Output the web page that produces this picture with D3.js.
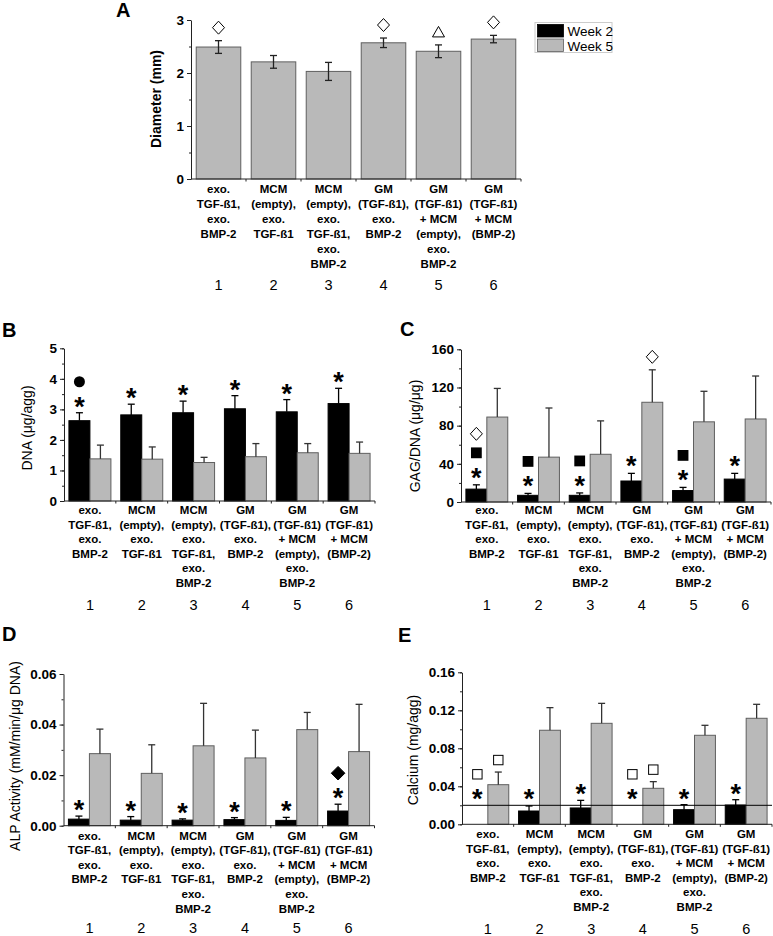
<!DOCTYPE html>
<html><head><meta charset="utf-8">
<script src="https://cdn.jsdelivr.net/npm/d3@7"></script>
<style>
body{margin:0;background:#fff}
svg{display:block}
text{font-family:"Liberation Sans",Arial,sans-serif;fill:#000}
</style>
</head><body>
<svg id="chart" width="773" height="936"></svg>
<script>
// ---------- DATA ----------
const groupNumbers = ["1", "2", "3", "4", "5", "6"];
const categoryLines = [
  ["exo.", "TGF-ß1,", "exo.", "BMP-2"],
  ["MCM", "(empty),", "exo.", "TGF-ß1"],
  ["MCM", "(empty),", "exo.", "TGF-ß1,", "exo.", "BMP-2"],
  ["GM", "(TGF-ß1),", "exo.", "BMP-2"],
  ["GM", "(TGF-ß1)", "+ MCM", "(empty),", "exo.", "BMP-2"],
  ["GM", "(TGF-ß1)", "+ MCM", "(BMP-2)"]
];
const seriesNames = ["Week 2", "Week 5"];

const diameterMean = [2.49, 2.21, 2.03, 2.57, 2.41, 2.64];
const diameterErr  = [0.12, 0.12, 0.17, 0.09, 0.12, 0.07];

const dnaWeek2    = [2.63, 2.82, 2.89, 3.02, 2.92, 3.19];
const dnaWeek2Err = [0.26, 0.35, 0.38, 0.43, 0.40, 0.50];
const dnaWeek5    = [1.38, 1.37, 1.26, 1.45, 1.58, 1.56];
const dnaWeek5Err = [0.45, 0.40, 0.17, 0.43, 0.30, 0.37];

const gagWeek2    = [13.5, 7, 7, 22, 12, 24];
const gagWeek2Err = [4.5, 2, 2.5, 8, 3.3, 6];
const gagWeek5    = [89, 47, 50, 104.5, 84, 87];
const gagWeek5Err = [30, 51.5, 35, 34, 32, 45];

const alpWeek2    = [0.0026, 0.0022, 0.0022, 0.0024, 0.0021, 0.0058];
const alpWeek2Err = [0.0012, 0.0014, 0.0005, 0.0008, 0.0012, 0.0027];
const alpWeek5    = [0.0285, 0.0207, 0.0316, 0.0268, 0.0380, 0.0293];
const alpWeek5Err = [0.0097, 0.0113, 0.0168, 0.0110, 0.0068, 0.0187];

const calciumWeek2    = [0, 0.0140, 0.0172, 0, 0.0154, 0.0203];
const calciumWeek2Err = [0, 0.0053, 0.0080, 0, 0.0053, 0.0056];
const calciumWeek5    = [0.0417, 0.0990, 0.1063, 0.0379, 0.0937, 0.1116];
const calciumWeek5Err = [0.0133, 0.0238, 0.0210, 0.0070, 0.0105, 0.0147];
const calciumThreshold = 0.02;

// significance markers: [groupIndex, seriesIndex, symbols from bottom up]
const diameterMarkers = [[0, 0, ["diamondOpen"]], [3, 0, ["diamondOpen"]], [4, 0, ["triangleOpen"]], [5, 0, ["diamondOpen"]]];
const dnaMarkers = [[0, 0, ["asterisk", "circle"]], [1, 0, ["asterisk"]], [2, 0, ["asterisk"]], [3, 0, ["asterisk"]], [4, 0, ["asterisk"]], [5, 0, ["asterisk"]]];
const gagMarkers = [[0, 0, ["asterisk", "squareFilled", "diamondOpen"]], [1, 0, ["asterisk", "squareFilled"]], [2, 0, ["asterisk", "squareFilled"]], [3, 0, ["asterisk"]], [4, 0, ["asterisk", "squareFilled"]], [5, 0, ["asterisk"]], [3, 1, ["diamondOpen"]]];
const alpMarkers = [[0, 0, ["asterisk"]], [1, 0, ["asterisk"]], [2, 0, ["asterisk"]], [3, 0, ["asterisk"]], [4, 0, ["asterisk"]], [5, 0, ["asterisk", "diamondFilled"]]];
const calciumMarkers = [[0, 0, ["asterisk", "squareOpen"]], [1, 0, ["asterisk"]], [2, 0, ["asterisk"]], [3, 0, ["asterisk", "squareOpen"]], [4, 0, ["asterisk"]], [5, 0, ["asterisk"]], [0, 1, ["squareOpen"]], [3, 1, ["squareOpen"]]];

const diameterTicks = [0, 1, 2, 3];
const dnaTicks = [0, 1, 2, 3, 4, 5];
const gagTicks = [0, 40, 80, 120, 160];
const alpTicks = [0, 0.02, 0.04, 0.06];
const calciumTicks = [0, 0.04, 0.08, 0.12, 0.16];

// ---------- STYLE ----------
const BLACK = "#000", GRAY = "#b9b9b9", GRAY_STROKE = "#5f5f5f", AXIS = "#222";
const svg = d3.select("#chart");

function drawSymbol(g, type, cx, cy) {
  if (type === "asterisk") {
    g.append("text").attr("x", cx).attr("y", cy + 15).attr("text-anchor", "middle")
      .attr("font-size", 27).attr("font-weight", "bold").text("*");
  } else if (type === "diamondOpen" || type === "diamondFilled") {
    const w = type === "diamondOpen" ? 6 : 6.8, h = type === "diamondOpen" ? 6.5 : 6.8;
    g.append("path").attr("d", `M${cx},${cy - h}L${cx + w},${cy}L${cx},${cy + h}L${cx - w},${cy}Z`)
      .attr("fill", type === "diamondOpen" ? "#fff" : "#000").attr("stroke", "#000").attr("stroke-width", 1);
  } else if (type === "squareFilled") {
    g.append("rect").attr("x", cx - 5.4).attr("y", cy - 5.4).attr("width", 10.8).attr("height", 10.8).attr("fill", "#000");
  } else if (type === "squareOpen") {
    g.append("rect").attr("x", cx - 4.7).attr("y", cy - 4.7).attr("width", 9.4).attr("height", 9.4)
      .attr("fill", "#fff").attr("stroke", "#000").attr("stroke-width", 1);
  } else if (type === "circle") {
    g.append("circle").attr("cx", cx).attr("cy", cy).attr("r", 5.5).attr("fill", "#000");
  } else if (type === "triangleOpen") {
    g.append("path").attr("d", `M${cx},${cy - 5.5}L${cx + 6},${cy + 5}L${cx - 6},${cy + 5}Z`)
      .attr("fill", "#fff").attr("stroke", "#000").attr("stroke-width", 1);
  }
}

function drawPanel(p) {
  const g = svg.append("g");
  const x = d3.scaleBand().domain(groupNumbers).range(p.xRange).paddingInner(0.19).paddingOuter(0.095);
  const y = d3.scaleLinear().domain([0, p.yMax]).range(p.yRange);
  const xs = d3.scaleBand().domain(d3.range(p.series.length)).range([0, x.bandwidth()]);

  // bars
  p.series.forEach((s, si) => {
    s.values.forEach((v, i) => {
      if (v <= 0) return;
      g.append("rect")
        .attr("x", x(groupNumbers[i]) + xs(si)).attr("y", y(v))
        .attr("width", xs.bandwidth()).attr("height", y(0) - y(v))
        .attr("fill", s.color).attr("stroke", s.stroke).attr("stroke-width", 1);
    });
  });
  // error bars
  p.series.forEach((s, si) => {
    s.values.forEach((v, i) => {
      const e = s.errors[i];
      if (!(e > 0)) return;
      const cx = x(groupNumbers[i]) + xs(si) + xs.bandwidth() / 2;
      const top = y(v + e), bot = p.twoSided ? y(v - e) : y(v);
      const col = s.errColor;
      g.append("line").attr("x1", cx).attr("x2", cx).attr("y1", top).attr("y2", bot).attr("stroke", col).attr("stroke-width", 1.3);
      g.append("line").attr("x1", cx - 3.5).attr("x2", cx + 3.5).attr("y1", top).attr("y2", top).attr("stroke", col).attr("stroke-width", 1.3);
      if (p.twoSided)
        g.append("line").attr("x1", cx - 3.5).attr("x2", cx + 3.5).attr("y1", bot).attr("y2", bot).attr("stroke", col).attr("stroke-width", 1.3);
    });
  });
  // threshold line
  if (p.threshold !== undefined) {
    g.append("line").attr("x1", p.xRange[0]).attr("x2", p.xRange[1])
      .attr("y1", y(p.threshold)).attr("y2", y(p.threshold)).attr("stroke", "#000").attr("stroke-width", 1);
  }
  // markers
  p.markers.forEach(([gi, si, syms]) => {
    const s = p.series[si];
    const cx = x(groupNumbers[gi]) + xs(si) + xs.bandwidth() / 2;
    let base = s.values[gi] + (s.errors[gi] || 0);
    if (p.markerFloor !== undefined) base = Math.max(base, p.markerFloor);
    let cy = y(base) - p.firstGap;
    syms.forEach(sym => { drawSymbol(g, sym, cx, cy); cy -= 19; });
  });

  // y axis
  const ax = g.append("g").attr("transform", `translate(${p.xRange[0]},0)`);
  const minorTicks = d3.range(0, p.yMax + p.minorStep / 2, p.minorStep);
  ax.call(d3.axisLeft(y).tickValues(minorTicks).tickSize(2).tickFormat(""))
    .call(a => a.select(".domain").remove());
  const major = g.append("g").attr("transform", `translate(${p.xRange[0]},0)`)
    .call(d3.axisLeft(y).tickValues(p.ticks).tickSize(4).tickSizeOuter(0).tickPadding(3).tickFormat(p.fmt));
  g.selectAll(".tick line, .domain").attr("stroke", AXIS);
  major.selectAll(".tick text").attr("font-size", 13.5).attr("font-weight", "bold")
    .attr("font-family", '"Liberation Sans",Arial,sans-serif').attr("fill", "#000");

  // x axis line with boundary ticks
  g.append("line").attr("x1", p.xRange[0]).attr("x2", p.xRange[1]).attr("y1", y(0)).attr("y2", y(0)).attr("stroke", AXIS);
  groupNumbers.slice(1).forEach(k => {
    const bx = x(k) - x.step() * x.paddingInner() / 2;
    g.append("line").attr("x1", bx).attr("x2", bx).attr("y1", y(0)).attr("y2", y(0) + 2.5).attr("stroke", AXIS);
  });
  g.append("line").attr("x1", p.xRange[1]).attr("x2", p.xRange[1]).attr("y1", y(0)).attr("y2", y(0) + 2.5).attr("stroke", AXIS);

  // category labels
  categoryLines.forEach((lines, i) => {
    const cx = x(groupNumbers[i]) + x.bandwidth() / 2;
    const t = g.append("text").attr("text-anchor", "middle").attr("font-size", p.catSize).attr("font-weight", "bold");
    lines.forEach((ln, li) => {
      t.append("tspan").attr("x", cx).attr("y", p.catY + li * p.catStep + 4).text(ln);
    });
    g.append("text").attr("x", cx).attr("y", p.numY + 5).attr("text-anchor", "middle").attr("font-size", 14.5).text(groupNumbers[i]);
  });

  // y title
  g.append("text").attr("transform", `translate(${p.titleX},${p.titleY}) rotate(-90)`)
    .attr("text-anchor", "middle").attr("dominant-baseline", "central")
    .attr("font-size", 14).attr("font-weight", p.titleBold ? "bold" : "normal").text(p.title);

  // panel letter
  g.append("text").attr("x", p.letterPos[0]).attr("y", p.letterPos[1]).attr("font-size", 20).attr("font-weight", "bold").text(p.letter);
}

const fmt0 = d3.format("d"), fmt2 = d3.format(".2f");

drawPanel({
  letter: "A", letterPos: [116, 17],
  xRange: [191, 521], yRange: [179, 20], yMax: 3, ticks: diameterTicks, minorStep: 0.5, fmt: fmt0,
  series: [{ values: diameterMean, errors: diameterErr, color: GRAY, stroke: GRAY_STROKE, errColor: "#222" }],
  twoSided: true, markers: diameterMarkers, firstGap: 13,
  catY: 189, catStep: 15, catSize: 11.5, numY: 285,
  title: "Diameter (mm)", titleBold: true, titleX: 156, titleY: 99
});

drawPanel({
  letter: "B", letterPos: [2, 337],
  xRange: [64, 375], yRange: [501, 348.3], yMax: 5, ticks: dnaTicks, minorStep: 0.5, fmt: fmt0,
  series: [
    { values: dnaWeek2, errors: dnaWeek2Err, color: BLACK, stroke: BLACK, errColor: "#000" },
    { values: dnaWeek5, errors: dnaWeek5Err, color: GRAY, stroke: GRAY_STROKE, errColor: "#333" }
  ],
  markers: dnaMarkers, firstGap: 12,
  catY: 510, catStep: 14.5, catSize: 11.5, numY: 605,
  title: "DNA (μg/agg)", titleX: 27, titleY: 428
});

drawPanel({
  letter: "C", letterPos: [400, 336],
  xRange: [461, 771], yRange: [502, 349.3], yMax: 160, ticks: gagTicks, minorStep: 20, fmt: fmt0,
  series: [
    { values: gagWeek2, errors: gagWeek2Err, color: BLACK, stroke: BLACK, errColor: "#000" },
    { values: gagWeek5, errors: gagWeek5Err, color: GRAY, stroke: GRAY_STROKE, errColor: "#333" }
  ],
  markers: gagMarkers, firstGap: 13,
  catY: 510, catStep: 14.5, catSize: 11.5, numY: 605,
  title: "GAG/DNA (μg/μg)", titleX: 415, titleY: 436
});

drawPanel({
  letter: "D", letterPos: [2, 641],
  xRange: [63.5, 374.5], yRange: [825.7, 674], yMax: 0.06, ticks: alpTicks, minorStep: 0.01, fmt: fmt2,
  series: [
    { values: alpWeek2, errors: alpWeek2Err, color: BLACK, stroke: BLACK, errColor: "#000" },
    { values: alpWeek5, errors: alpWeek5Err, color: GRAY, stroke: GRAY_STROKE, errColor: "#333" }
  ],
  markers: alpMarkers, firstGap: 12,
  catY: 835.5, catStep: 14.6, catSize: 11.5, numY: 928,
  title: "ALP Activity (mM/min/μg DNA)", titleX: 15, titleY: 756
});

drawPanel({
  letter: "E", letterPos: [398, 642],
  xRange: [462, 772], yRange: [824.3, 672.3], yMax: 0.16, ticks: calciumTicks, minorStep: 0.02, fmt: fmt2,
  series: [
    { values: calciumWeek2, errors: calciumWeek2Err, color: BLACK, stroke: BLACK, errColor: "#000" },
    { values: calciumWeek5, errors: calciumWeek5Err, color: GRAY, stroke: GRAY_STROKE, errColor: "#333" }
  ],
  threshold: calciumThreshold, markerFloor: calciumThreshold,
  markers: calciumMarkers, firstGap: 12,
  catY: 834, catStep: 14.5, catSize: 11.5, numY: 929,
  title: "Calcium (mg/agg)", titleX: 413, titleY: 750
});

// legend
const lg = svg.append("g");
lg.append("rect").attr("x", 535).attr("y", 22.5).attr("width", 77).attr("height", 30)
  .attr("fill", "#fff").attr("stroke", "#ccc").attr("stroke-width", 1);
[BLACK, GRAY].forEach((c, i) => {
  lg.append("rect").attr("x", 537.5).attr("y", 24.5 + i * 14.5).attr("width", 26).attr("height", 12.5)
    .attr("fill", c).attr("stroke", i ? GRAY_STROKE : BLACK).attr("stroke-width", 0.8);
  lg.append("text").attr("x", 567.5).attr("y", 36 + i * 14.5).attr("font-size", 13.5).text(seriesNames[i]);
});
</script>
</body></html>
